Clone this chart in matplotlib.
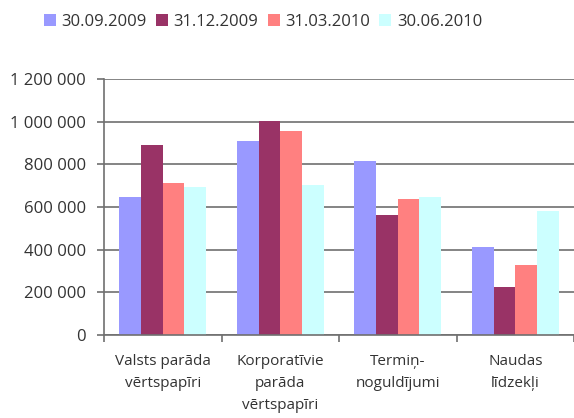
import numpy as np
import matplotlib.pyplot as plt
from matplotlib.ticker import FuncFormatter

plt.rcParams['font.family'] = ['Open Sans', 'DejaVu Sans']

categories = ['Valsts parāda\nvērtspapīri', 'Korporatīvie\nparāda\nvērtspapīri',
              'Termiņ-\nnoguldījumi', 'Naudas\nlīdzekļi']
series_names = ['30.09.2009', '31.12.2009', '31.03.2010', '30.06.2010']
v_2009_09 = [648000, 909000, 816000, 412000]
v_2009_12 = [890000, 1001000, 562000, 225000]
v_2010_03 = [712000, 956000, 637000, 328000]
v_2010_06 = [694000, 703000, 647000, 581000]
colors = ['#9999FF', '#993366', '#FF8080', '#CCFFFF']

values = [v_2009_09, v_2009_12, v_2010_03, v_2010_06]

fig = plt.figure(figsize=(5.74, 4.18), dpi=100)
ax = fig.add_axes([104 / 574, 1 - 335 / 418, 470 / 574, 256 / 418])

x = np.arange(len(categories))
w = 0.185
for i, (name, vals) in enumerate(zip(series_names, values)):
    ax.bar(x + (i - 1.5) * w, vals, w, color=colors[i], label=name, zorder=2)

ax.set_ylim(0, 1200000)
ax.set_yticks(np.arange(0, 1200001, 200000))
ax.yaxis.set_major_formatter(FuncFormatter(lambda v, p: f'{int(v):,}'.replace(',', ' ')))
ax.yaxis.grid(True, color='#707070', linewidth=1.2, zorder=0)
ax.set_xlim(-0.5, len(categories) - 0.5)
ax.set_xticks(x)
ax.set_xticklabels(categories, fontsize=11, color='#333333', linespacing=1.6)
ax.set_xticks(np.arange(-0.5, len(categories)), minor=True)
ax.tick_params(axis='x', which='major', length=0, pad=14)
ax.tick_params(axis='x', which='minor', length=5, color='#707070', width=1.2)
ax.tick_params(axis='y', length=5, color='#707070', width=1.2, pad=8,
               labelsize=12, labelcolor='#333333')
for s in ['top', 'right']:
    ax.spines[s].set_visible(False)
for s in ['left', 'bottom']:
    ax.spines[s].set_color('#707070')
    ax.spines[s].set_linewidth(1.2)

fig.legend(loc='center', bbox_to_anchor=(263 / 574, 1 - 22 / 418), ncol=4, frameon=False,
           fontsize=12, handlelength=0.72, handleheight=0.72, handletextpad=0.35,
           columnspacing=0.55, labelcolor='#333333')

fig.savefig('out.png', dpi=100)
